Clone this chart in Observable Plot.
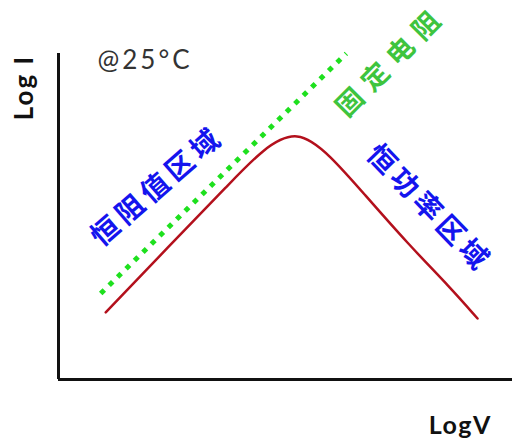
<!DOCTYPE html>
<html>
<head>
<meta charset="utf-8">
<script src="https://cdn.jsdelivr.net/npm/d3@7"></script>
<script src="https://cdn.jsdelivr.net/npm/@observablehq/plot@0.6"></script>
<style>
  html, body { margin: 0; padding: 0; background: #fff; }
</style>
</head>
<body>
<div id="chart"></div>
<script>
// Measured curve: log V (x) vs log I (y), arbitrary 0–100 units (B-spline control points)
const curveV = [10.4, 24.0, 37.9, 44.9, 52.6, 59.9, 67.2, 76.9, 86.3, 92.3];
const curveI = [20.6, 40.4, 60.4, 70.6, 77.0, 68.7, 57.1, 41.7, 28.2, 18.7];
// Fixed-resistance reference line
const fixedV = [9.3, 63.4];
const fixedI = [26.4, 100];
// Labels
const xLabel = "LogV";
const yLabel = "Log I";
const tempNote = "@25°C";
const regionLabels = ["恒阻值区域", "恒功率区域"];
const fixedLabel = "固定电阻";

const curve = curveV.map((v, i) => ({v, i: curveI[i]}));
const fixed = fixedV.map((v, i) => ({v, i: fixedI[i]}));

const chart = Plot.plot({
  width: 512,
  height: 443,
  marginLeft: 58,
  marginRight: 0,
  marginTop: 53,
  marginBottom: 64,
  x: {domain: [0, 100], axis: null},
  y: {domain: [0, 100], axis: null},
  style: {background: "#fff", fontFamily: "Lato, sans-serif"},
  marks: [
    Plot.ruleX([0], {stroke: "#111", strokeWidth: 3}),
    Plot.ruleY([0], {stroke: "#111", strokeWidth: 3}),
    Plot.line(fixed, {x: "v", y: "i", stroke: "#1ee01e", strokeWidth: 5, strokeDasharray: "5 6.8", strokeLinecap: "butt"}),
    Plot.line(curve, {x: "v", y: "i", stroke: "#b3101c", strokeWidth: 2.5, curve: "basis"}),
    Plot.text([regionLabels[0]], {x: 21.4, y: 58.6, rotate: -41, fill: "#1414ee", fontSize: 28, fontWeight: 700,
      fontFamily: "Noto Sans CJK SC", ariaDescription: "spaced"}),
    Plot.text([regionLabels[1]], {x: 81.2, y: 52.9, rotate: 46, fill: "#1414ee", fontSize: 28, fontWeight: 700,
      fontFamily: "Noto Sans CJK SC", ariaDescription: "spaced"}),
    Plot.text([fixedLabel], {x: 72.7, y: 96.6, rotate: -45, fill: "#3ec43e", fontSize: 27, fontWeight: 700,
      fontFamily: "Noto Sans CJK SC", ariaDescription: "spaced-wide"}),
    Plot.text([tempNote], {frameAnchor: "top-left", textAnchor: "start", lineAnchor: "bottom", dx: 39, dy: 15,
      fontSize: 26, fill: "#333", ariaDescription: "note"}),
    Plot.text([yLabel], {frameAnchor: "top-left", textAnchor: "middle", lineAnchor: "middle", rotate: -90, dx: -34, dy: 35,
      fontSize: 26, fontWeight: 700, fill: "#111", ariaDescription: "ylabel"}),
    Plot.text([xLabel], {frameAnchor: "bottom-right", textAnchor: "middle", lineAnchor: "middle", dx: -53, dy: 46,
      fontSize: 25, fontWeight: 700, fill: "#111", ariaDescription: "xlabel"})
  ]
});
// letter spacing between characters (none after the last one, so centring stays exact)
function spaceOut(sel, px) {
  d3.select(chart).selectAll(sel).each(function() {
    const t = d3.select(this);
    const s = t.text();
    t.text(null);
    t.append("tspan").style("letter-spacing", px + "px").text(s.slice(0, -1));
    t.append("tspan").text(s.slice(-1));
  });
}
spaceOut('g[aria-description="spaced"] text', 5);
spaceOut('g[aria-description="spaced-wide"] text', 9);
spaceOut('g[aria-description="note"] text', 3);
spaceOut('g[aria-description="ylabel"] text', 2);
spaceOut('g[aria-description="xlabel"] text', 1.5);
document.getElementById("chart").appendChild(chart);
</script>
</body>
</html>
